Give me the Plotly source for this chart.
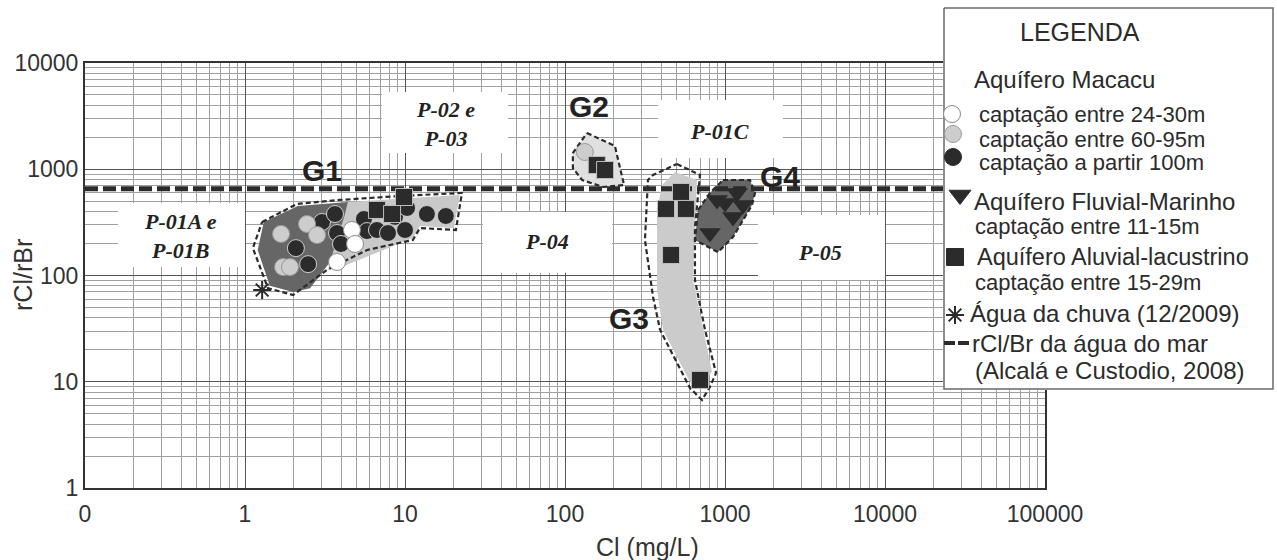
import numpy as np
import plotly.graph_objects as go

# ---------------- data ----------------
x_tick_vals = [0.1, 1, 10, 100, 1000, 10000, 100000]
x_tick_text = ["0", "1", "10", "100", "1000", "10000", "100000"]
y_tick_vals = [1, 10, 100, 1000, 10000]
y_tick_text = ["1", "10", "100", "1000", "10000"]

seawater_ratio = 655  # rCl/Br da água do mar

# Aquífero Macacu
macacu_24_30_cl = [4.66, 4.87, 3.76]
macacu_24_30_ratio = [268, 198, 134]
macacu_60_95_cl = [1.68, 2.44, 2.82, 1.73, 1.91, 133]
macacu_60_95_ratio = [246, 305, 240, 120, 120, 1453]
macacu_100_cl = [2.08, 2.48, 3.03, 3.65, 3.76, 3.98, 5.54, 5.79, 6.68, 7.83,
                 8.66, 10.0, 10.3, 13.7, 18.0]
macacu_100_ratio = [181, 128, 319, 379, 251, 198, 340, 262, 268, 251,
                    356, 268, 432, 379, 363]
# Aquífero Fluvial-Marinho
fluvial_cl = [891, 1189, 1296, 1122, 805, 1000]
fluvial_ratio = [514, 598, 461, 356, 251, 481]
# Aquífero Aluvial-lacustrino
aluvial_cl = [6.68, 8.3, 9.86, 158, 178, 531, 428, 570, 460, 698]
aluvial_ratio = [414, 379, 548, 1096, 984, 611, 423, 423, 156, 10.4]
# Água da chuva
rain_cl = [1.28]
rain_ratio = [73]

# group envelopes (Cl, ratio)
g1_out_cl = [1.28, 2.11, 3.9, 9.3, 22.7, 20.8, 12.4, 11.2, 5.8, 3.25, 2.0, 1.39, 1.28, 1.12]
g1_out_r = [319, 471, 514, 560, 598, 268, 280, 216, 174, 113, 65.5, 76, 106, 181]
g1_dark_cl = [1.31, 2.14, 4.4, 4.2, 3.4, 2.55, 2.0, 1.43, 1.2]
g1_dark_r = [319, 451, 492, 371, 134, 76, 70, 80, 174]
g1_light_cl = [4.4, 22, 20.2, 12.4, 11.2, 3.9, 3.3, 4.2]
g1_light_r = [492, 573, 280, 292, 225, 118, 113, 371]
g2_out_cl = [137, 205, 234, 173, 128, 112, 112]
g2_out_r = [2193, 1655, 711, 681, 792, 1027, 1422]
g3_out_cl = [501, 698, 649, 649, 750, 879, 805, 718, 604, 393, 355, 316, 330, 355]
g3_out_r = [1120, 883, 286, 90.7, 30.7, 12.1, 8.93, 6.73, 8.73, 30.7, 62.8, 216, 792, 883]
g3_fill_cl = [487, 668, 631, 729, 829, 698, 604, 410, 376, 376, 404]
g3_fill_r = [942, 792, 90.7, 30.7, 12.4, 8.73, 9.95, 30.7, 73, 413, 711]
g4_out_cl = [972, 1432, 1540, 1475, 1122, 904, 649, 678, 805]
g4_out_r = [792, 792, 598, 461, 230, 166, 216, 413, 598]

# well label boxes
box_x0 = [0.161, 7.18, 381, 30.7, 1607]
box_x1 = [1.0, 44, 2304, 197, 10000]
box_y0 = [120, 1422, 1276, 106, 90.7]
box_y1 = [481, 5336, 4487, 396, 371]
p_text = ["P-01A e<br>P-01B", "P-02 e<br>P-03", "P-01C", "P-04", "P-05"]
p_x = [0.393, 17.8, 930, 77.2, 3926]
p_y = [235, 2667, 2244, 207, 166]

g_text = ["G1", "G2", "G3", "G4"]
g_x = [3.03, 141, 251, 2208]
g_y = [963, 3936, 39, 864]

# ---------------- styling ----------------
INK = "#2b2b2b"
SANS = "Liberation Sans, Arial, Helvetica, sans-serif"
SERIF = "Liberation Serif, Times New Roman, serif"
W, H = 1277, 560

fig = go.Figure()


def closed(xs, ys):
    return list(xs) + [xs[0]], list(ys) + [ys[0]]


# white boxes behind well labels
for x0, x1, y0, y1 in zip(box_x0, box_x1, box_y0, box_y1):
    fig.add_trace(go.Scatter(x=[x0, x1, x1, x0, x0], y=[y0, y0, y1, y1, y0],
                             mode="lines", fill="toself", fillcolor="white",
                             line=dict(width=0, color="white"), hoverinfo="skip"))

# group fills
for xs, ys, col in [(g1_light_cl, g1_light_r, "#c9c9c9"),
                    (g1_dark_cl, g1_dark_r, "#666666"),
                    (g2_out_cl, g2_out_r, "#e0e0e0"),
                    (g3_fill_cl, g3_fill_r, "#cbcbcb"),
                    (g4_out_cl, g4_out_r, "#666666")]:
    cx, cy = closed(xs, ys)
    fig.add_trace(go.Scatter(x=cx, y=cy, mode="lines", fill="toself", fillcolor=col,
                             line=dict(width=0, color=col), hoverinfo="skip"))

# dashed envelopes
for xs, ys in [(g1_out_cl, g1_out_r), (g2_out_cl, g2_out_r),
               (g3_out_cl, g3_out_r), (g4_out_cl, g4_out_r)]:
    cx, cy = closed(xs, ys)
    fig.add_trace(go.Scatter(x=cx, y=cy, mode="lines",
                             line=dict(width=2.2, color=INK, dash="5px,3px"),
                             hoverinfo="skip"))

# seawater line
fig.add_trace(go.Scatter(x=[x_tick_vals[0], x_tick_vals[-1]], y=[seawater_ratio] * 2,
                         mode="lines", line=dict(width=5, color=INK, dash="13px,5px"),
                         hoverinfo="skip"))

# samples
fig.add_trace(go.Scatter(x=macacu_100_cl, y=macacu_100_ratio, mode="markers",
                         marker=dict(symbol="circle", size=17, color=INK,
                                     line=dict(width=1, color="#cfcfcf"))))
fig.add_trace(go.Scatter(x=macacu_60_95_cl, y=macacu_60_95_ratio, mode="markers",
                         marker=dict(symbol="circle", size=17, color="#cdcdcd",
                                     line=dict(width=1, color="#9a9a9a"))))
fig.add_trace(go.Scatter(x=macacu_24_30_cl, y=macacu_24_30_ratio, mode="markers",
                         marker=dict(symbol="circle", size=17, color="white",
                                     line=dict(width=1, color="#8a8a8a"))))
fig.add_trace(go.Scatter(x=aluvial_cl, y=aluvial_ratio, mode="markers",
                         marker=dict(symbol="square", size=17, color=INK,
                                     line=dict(width=1, color="#bdbdbd"))))
fig.add_trace(go.Scatter(x=fluvial_cl, y=fluvial_ratio, mode="markers",
                         marker=dict(symbol="triangle-down", size=19, color=INK,
                                     line=dict(width=0))))
fig.add_trace(go.Scatter(x=rain_cl, y=rain_ratio, mode="markers",
                         marker=dict(symbol="asterisk-open", size=15, color=INK,
                                     line=dict(width=2, color=INK))))

annotations = []
for t, x, y in zip(p_text, p_x, p_y):
    annotations.append(dict(x=np.log10(x), y=np.log10(y), xref="x", yref="y", text=f"<b><i>{t}</i></b>",
                            showarrow=False, font=dict(family=SERIF, size=22, color="#222")))
for t, x, y in zip(g_text, g_x, g_y):
    annotations.append(dict(x=np.log10(x), y=np.log10(y), xref="x", yref="y", text=f"<b>{t}</b>",
                            showarrow=False, font=dict(family=SANS, size=30, color="#222")))

# axis titles
annotations.append(dict(x=23 / W, y=1 - 275 / H, xref="paper", yref="paper", text="rCl/rBr",
                        textangle=-90, showarrow=False, xanchor="center", yanchor="middle",
                        font=dict(family=SANS, size=25, color="#333")))
annotations.append(dict(x=647 / W, y=1 - 547 / H, xref="paper", yref="paper", text="Cl (mg/L)",
                        showarrow=False, xanchor="center", yanchor="middle",
                        font=dict(family=SANS, size=25, color="#333")))

# ---------------- legend panel (own hidden axes, pixel-like units) ----------------
LX0, LX1, LY0, LY1 = 943, 1274, 7, 390
fig.add_trace(go.Scatter(x=[LX0 + 1, LX1 - 1, LX1 - 1, LX0 + 1, LX0 + 1],
                         y=[LY0 + 1, LY0 + 1, LY1 - 1, LY1 - 1, LY0 + 1],
                         xaxis="x2", yaxis="y2", mode="lines", fill="toself", fillcolor="white",
                         line=dict(width=1.5, color="#6a6a6a"), hoverinfo="skip"))
leg_sym = [("circle", 952, 114, "white", "#8a8a8a", 17),
           ("circle", 953, 134, "#cdcdcd", "#9a9a9a", 17),
           ("circle", 953, 157, INK, INK, 17),
           ("triangle-down", 960, 195, INK, INK, 19),
           ("square", 955, 257, INK, INK, 17)]
for sym, x, y, col, lc, sz in leg_sym:
    fig.add_trace(go.Scatter(x=[x], y=[y], xaxis="x2", yaxis="y2", mode="markers",
                             marker=dict(symbol=sym, size=sz, color=col, line=dict(width=1, color=lc))))
fig.add_trace(go.Scatter(x=[955], y=[315], xaxis="x2", yaxis="y2", mode="markers",
                         marker=dict(symbol="asterisk-open", size=15, color=INK,
                                     line=dict(width=2, color=INK))))
fig.add_trace(go.Scatter(x=[944, 969], y=[343, 343], xaxis="x2", yaxis="y2", mode="lines",
                         line=dict(width=4, color=INK, dash="11px,3px")))

leg_text = [("LEGENDA", 1080, 32, 25, "center"),
            ("Aquífero Macacu", 972, 80, 24, "left"),
            ("captação entre 24-30m", 977, 115, 22, "left"),
            ("captação entre 60-95m", 977, 140, 22, "left"),
            ("captação a partir 100m", 977, 163, 22, "left"),
            ("Aquífero Fluvial-Marinho", 972, 202, 24, "left"),
            ("captação entre 11-15m", 973, 227, 22, "left"),
            ("Aquífero Aluvial-lacustrino", 975, 257, 23.5, "left"),
            ("captação entre 15-29m", 973, 282, 22, "left"),
            ("Água da chuva (12/2009)", 968, 313, 24, "left"),
            ("rCl/Br da água do mar", 970, 343, 24, "left"),
            ("(Alcalá e Custodio, 2008)", 973, 370, 24, "left")]
for t, x, y, sz, anc in leg_text:
    annotations.append(dict(x=x, y=y, xref="x2", yref="y2", text=t, showarrow=False,
                            xanchor=anc, yanchor="middle",
                            font=dict(family=SANS, size=sz, color="#2b2b2b")))

minor_x = [m * 10.0 ** e for e in range(-1, 5) for m in range(2, 10)]
minor_y = [m * 10.0 ** e for e in range(0, 4) for m in range(2, 10)]

axis_common = dict(type="log", showgrid=True, gridcolor="#555555", gridwidth=1.2,
                   showline=True, linecolor="#333", linewidth=2, mirror=True,
                   ticks="", zeroline=False, automargin=False,
                   tickfont=dict(family=SANS, size=23, color="#333"))
fig.update_layout(
    template="none",
    width=W, height=H, margin=dict(l=0, r=0, t=0, b=0, pad=0, autoexpand=False),
    paper_bgcolor="white", plot_bgcolor="white", showlegend=False, hovermode=False,
    xaxis=dict(**axis_common, range=[-1, 5], domain=[85 / W, 1045 / W],
               tickmode="array", tickvals=x_tick_vals, ticktext=x_tick_text,
               ticklabelstandoff=4,
               minor=dict(tickmode="array", tickvals=minor_x, showgrid=True,
                          gridcolor="#a0a0a0", gridwidth=1, ticks="")),
    yaxis=dict(**axis_common, range=[0, 4], domain=[(H - 488) / H, (H - 63) / H],
               tickmode="array", tickvals=y_tick_vals, ticktext=y_tick_text,
               ticklabelstandoff=0,
               minor=dict(tickmode="array", tickvals=minor_y, showgrid=True,
                          gridcolor="#a0a0a0", gridwidth=1, ticks="")),
    xaxis2=dict(domain=[LX0 / W, LX1 / W], range=[LX0, LX1], visible=False,
                anchor="y2", automargin=False),
    yaxis2=dict(domain=[(H - LY1) / H, (H - LY0) / H], range=[LY1, LY0], visible=False,
                anchor="x2", automargin=False),
    annotations=annotations,
)

fig.write_html("out.html", config={"displayModeBar": False},
               post_script="document.body.style.margin='0';document.body.style.overflow='hidden';")
